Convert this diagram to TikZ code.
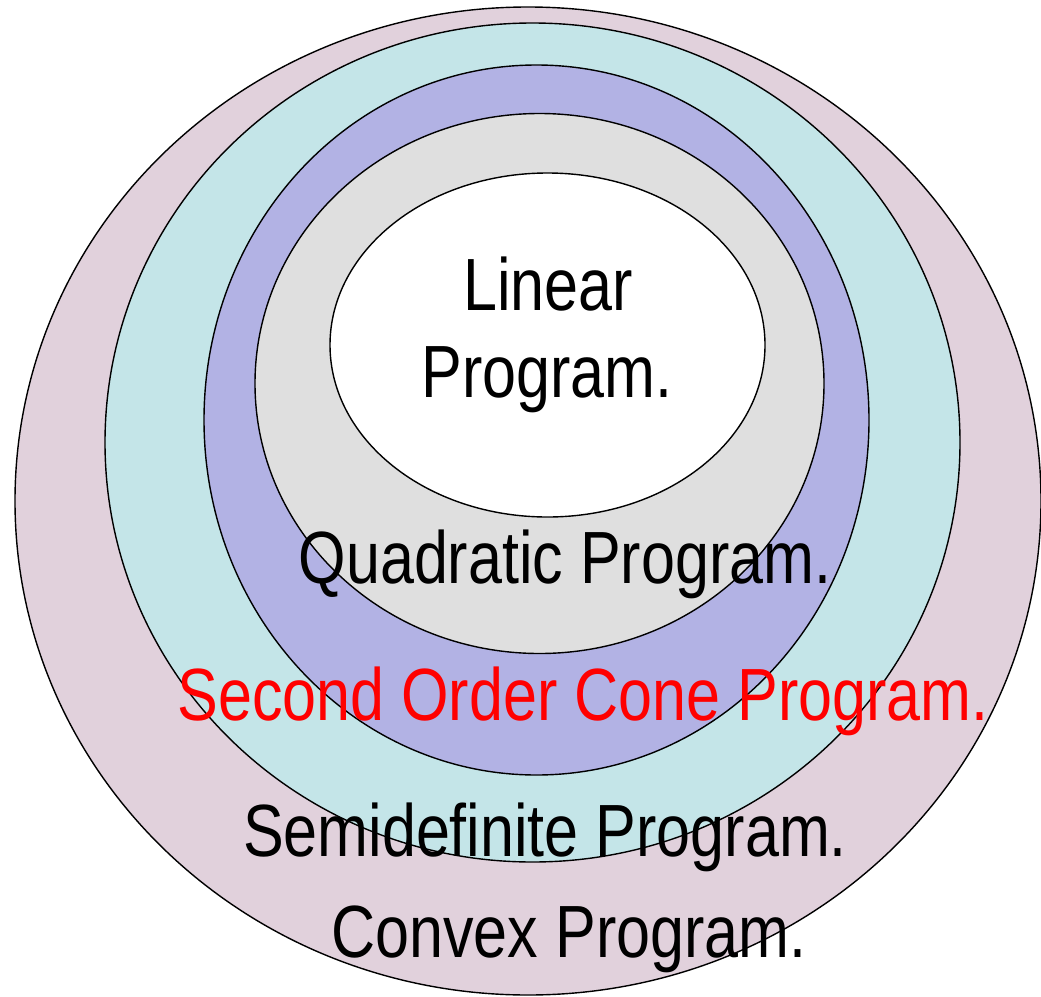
\documentclass[tikz,border=0pt]{standalone}
\usepackage{fontspec}
\newfontfamily\lblfont[FakeStretch=0.825]{Liberation Sans}
\definecolor{cvxfill}{HTML}{E1D1DC}
\definecolor{sdpfill}{HTML}{C4E5E8}
\definecolor{socpfill}{HTML}{B2B2E4}
\definecolor{qpfill}{HTML}{DFDFDF}
\definecolor{lpfill}{HTML}{FFFFFF}
\begin{document}
\begin{tikzpicture}[x=1pt,y=-1pt,
  ring/.style={draw=black,line width=1.4pt},
  lbl/.style={inner sep=0pt,anchor=base,font=\lblfont\fontsize{74}{87}\selectfont}]
\useasboundingbox (0,0) rectangle (1041,996);
% nested problem classes, outermost first
\draw[ring,fill=cvxfill]  (528,501)   ellipse [x radius=513pt,   y radius=494pt];
\draw[ring,fill=sdpfill]  (532.5,442.5) ellipse [x radius=427.5pt, y radius=419.5pt];
\draw[ring,fill=socpfill] (536.5,420) ellipse [x radius=332.5pt, y radius=355pt];
\draw[ring,fill=qpfill]   (539.5,383.5) ellipse [x radius=284.5pt, y radius=270pt];
\draw[ring,fill=lpfill]   (547.5,345) ellipse [x radius=217.5pt, y radius=172pt];
% labels
\node[lbl] (lpA)  at (548,310) {Linear};
\node[lbl] (lpB)  at (547,397) {Program.};
\node[lbl] (qp)   at (565,583) {Quadratic Program.};
\node[lbl,text=red] (socp) at (583,720) {Second Order Cone Program.};
\node[lbl] (sdp)  at (545,856) {Semidefinite Program.};
\node[lbl] (cvx)  at (569,957) {Convex Program.};
\end{tikzpicture}
\end{document}
